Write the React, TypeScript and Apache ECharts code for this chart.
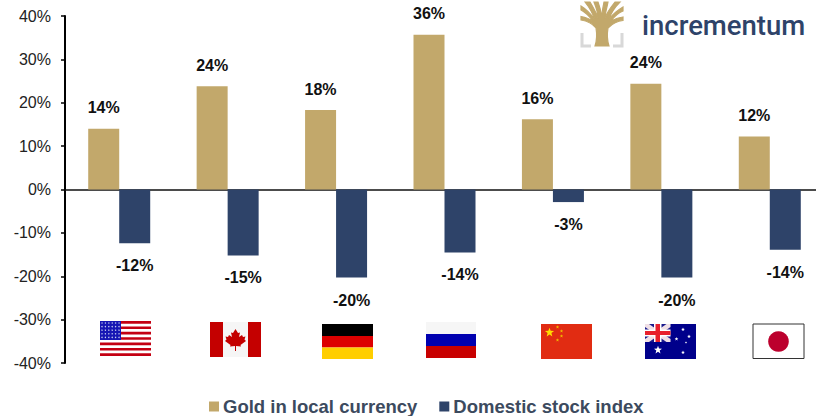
import React, { useEffect, useRef } from "react";
import * as echarts from "echarts";

const categories = ["United States", "Canada", "Germany", "Russia", "China", "Australia", "Japan"];
const goldValues = [14, 23.8, 18.3, 35.7, 16.2, 24.4, 12.2];
const stockValues = [-12.4, -15.2, -20.3, -14.5, -2.9, -20.3, -13.9];
const goldLabels = ["14%", "24%", "18%", "36%", "16%", "24%", "12%"];
const stockLabels = ["-12%", "-15%", "-20%", "-14%", "-3%", "-20%", "-14%"];

const TREE =
  "M15 46 C17 40 17 34 16 28 C12 23 7 21 1 20 L1 16.5 C6 17.5 10 19 13 21 C9 16 5 12 1 10 L1 6 C6 9 11 14 15 20 C13 14 9 7 5 2 L10 2 C13 7 16 12 18 18 C18 13 16 7 14 2 L18 2 C20 7 21 12 21.5 17 C22 12 23 7 24 2 L28 2 C27 8 25 13 25 18 C27 12 31 7 35 2 L40 2 C35 7 31 13 29 19 C33 14 38 10 43 7 L43 11 C38 13 34 17 31 21 C35 19 39 17.5 43 17 L43 20.5 C37 21 32 24 28 28 C27 34 27 40 29 46 Z";
echarts.graphic.registerShape("incTreeLogo", echarts.graphic.extendPath(TREE, {}));

const rect = (x: number, y: number, width: number, height: number, fill: string) => ({
  type: "rect",
  shape: { x, y, width, height },
  style: { fill },
  silent: true,
});
const poly = (points: number[][], fill: string) => ({
  type: "polygon",
  shape: { points },
  style: { fill },
  silent: true,
});
const dot = (cx: number, cy: number, r: number, fill: string) => ({
  type: "circle",
  shape: { cx, cy, r },
  style: { fill },
  silent: true,
});
const star = (cx: number, cy: number, r: number, fill: string) => {
  const pts: number[][] = [];
  for (let i = 0; i < 10; i++) {
    const a = -Math.PI / 2 + (i * Math.PI) / 5;
    const q = i % 2 ? r * 0.42 : r;
    pts.push([cx + q * Math.cos(a), cy + q * Math.sin(a)]);
  }
  return poly(pts, fill);
};

function usFlag() {
  const out: any[] = [rect(100, 321, 51, 35, "#ffffff")];
  const h = 35 / 13;
  for (let i = 0; i < 13; i += 2) out.push(rect(100, 321 + i * h, 51, h, "#c40012"));
  out.push(rect(100, 321, 21, 19, "#1616b4"));
  for (let r = 0; r < 5; r++) {
    for (let c = 0; c < 6; c++) out.push(dot(102 + c * 3.4, 323 + r * 3.6, 0.7, "#c8d0f0"));
  }
  return out;
}
function canadaFlag() {
  return [
    rect(210, 322, 51, 35, "#c40000"),
    rect(223, 322, 25, 35, "#f6f6f6"),
    poly(
      [
        [235.5, 329], [238, 333], [240, 332.5], [239, 337], [242, 335], [243, 337], [245.5, 336.5],
        [244.5, 339.5], [246, 341], [240.5, 345], [241, 346.5], [236, 346], [236, 351], [235, 351],
        [235, 346], [230, 346.5], [230.5, 345], [225, 341], [226.5, 339.5], [225.5, 336.5],
        [228, 337], [229, 335], [232, 337], [231, 332.5], [233, 333],
      ],
      "#c40000"
    ),
  ];
}
function germanyFlag() {
  return [
    rect(322, 324, 51, 12, "#000000"),
    rect(322, 336, 51, 11.5, "#dd0000"),
    rect(322, 347.5, 51, 11.5, "#ffce00"),
  ];
}
function russiaFlag() {
  return [
    rect(426, 322, 50, 12, "#f6f6f6"),
    rect(426, 334, 50, 12, "#0000b0"),
    rect(426, 346, 50, 12, "#c80000"),
  ];
}
function chinaFlag() {
  return [
    rect(541, 324, 51, 35, "#e12c12"),
    star(549.5, 332.5, 4.8, "#ffdd00"),
    star(557.5, 327, 1.8, "#f0c000"),
    star(561.5, 331, 1.8, "#f0c000"),
    star(561.5, 336, 1.8, "#f0c000"),
    star(557.5, 340, 1.8, "#f0c000"),
  ];
}
function australiaFlag() {
  return [
    rect(645, 324, 51, 35, "#00008b"),
    rect(645, 324, 25.5, 18, "#1a1a8c"),
    poly([[645, 324], [649, 324], [670.5, 339], [670.5, 342], [666.5, 342], [645, 327]], "#f0e0e6"),
    poly([[670.5, 324], [666.5, 324], [645, 339], [645, 342], [649, 342], [670.5, 327]], "#f0e0e6"),
    rect(654, 324, 7.5, 18, "#ffffff"),
    rect(645, 329.5, 25.5, 7, "#ffffff"),
    rect(655.5, 324, 4.5, 18, "#e8202c"),
    rect(645, 331, 25.5, 4, "#e8202c"),
    star(658, 350, 4.2, "#ffffff"),
    star(683, 329.5, 2, "#ffffff"),
    star(689, 336.5, 2, "#ffffff"),
    star(676.5, 339, 2, "#ffffff"),
    star(686, 342.5, 1.2, "#ffffff"),
    star(683, 352.5, 2, "#ffffff"),
  ];
}
function japanFlag() {
  return [
    {
      type: "rect",
      shape: { x: 753, y: 324, width: 51, height: 34.5 },
      style: { fill: "#ffffff", stroke: "#333333", lineWidth: 1 },
      silent: true,
    },
    dot(778.5, 341.5, 10.3, "#bc002d"),
  ];
}

export default function App() {
  const ref = useRef<HTMLDivElement>(null);
  useEffect(() => {
    const chart = echarts.init(ref.current!, undefined, { renderer: "svg" });
    chart.setOption({
      animation: false,
      backgroundColor: "#ffffff",
      textStyle: { fontFamily: "Liberation Sans" },
      grid: { left: 65, top: 16, width: 759, height: 347, containLabel: false, outerBoundsMode: "none" },
      legend: {
        left: 209,
        top: 397,
        itemWidth: 10,
        itemHeight: 10,
        itemGap: 22,
        padding: 0,
        icon: "rect",
        selectedMode: false,
        textStyle: {
          fontFamily: "Liberation Sans",
          fontSize: 18.5,
          fontWeight: "bold",
          color: "#3c4a5e",
          padding: [0, 0, 0, -1],
        },
      },
      xAxis: {
        type: "category",
        data: categories,
        axisLine: { onZero: true, lineStyle: { color: "#111111", width: 1.5 } },
        axisTick: { show: false },
        axisLabel: { show: false },
      },
      yAxis: {
        type: "value",
        min: -40,
        max: 40,
        interval: 10,
        splitLine: { show: false },
        axisLine: { show: true, lineStyle: { color: "#000000", width: 2 } },
        axisTick: { show: true, length: 4, lineStyle: { color: "#000000", width: 1.5 } },
        axisLabel: {
          formatter: "{value}%",
          fontFamily: "Liberation Sans",
          fontSize: 16,
          color: "#222222",
          margin: 14,
        },
      },
      series: [
        {
          name: "Gold in local currency",
          type: "bar",
          data: goldValues,
          barWidth: 31,
          barGap: 0,
          itemStyle: { color: "#c2a86b" },
          label: {
            show: true,
            position: "top",
            distance: 13,
            fontFamily: "Liberation Sans",
            fontSize: 16,
            fontWeight: "bold",
            color: "#111111",
            formatter: (p: any) => goldLabels[p.dataIndex],
          },
        },
        {
          name: "Domestic stock index",
          type: "bar",
          data: stockValues,
          barWidth: 31,
          barGap: 0,
          itemStyle: { color: "#2e4369" },
          label: {
            show: true,
            position: "bottom",
            distance: 14.5,
            fontFamily: "Liberation Sans",
            fontSize: 16,
            fontWeight: "bold",
            color: "#111111",
            formatter: (p: any) => stockLabels[p.dataIndex],
          },
        },
      ],
      graphic: {
        elements: [
          ...usFlag(),
          ...canadaFlag(),
          ...germanyFlag(),
          ...russiaFlag(),
          ...chinaFlag(),
          ...australiaFlag(),
          ...japanFlag(),
          {
            type: "polyline",
            shape: { points: [[582, 33], [582, 46], [591, 46]] },
            style: { stroke: "#d8d8d8", lineWidth: 3, fill: "none" },
            silent: true,
          },
          {
            type: "polyline",
            shape: { points: [[622, 33], [622, 46], [613, 46]] },
            style: { stroke: "#d8d8d8", lineWidth: 3, fill: "none" },
            silent: true,
          },
          {
            type: "incTreeLogo",
            x: 580,
            y: 0,
            style: { fill: "#c2a86b", stroke: "#c2a86b", lineWidth: 1.2 },
            silent: true,
          },
          {
            type: "text",
            x: 642,
            y: 25,
            style: {
              text: "incrementum",
              fontFamily: "Roboto",
              fontSize: 27.5,
              fontWeight: 500,
              fill: "#2e4369",
              verticalAlign: "middle",
              align: "left",
            },
            silent: true,
          },
        ],
      },
    });
    return () => chart.dispose();
  }, []);
  return <div ref={ref} style={{ width: 816, height: 416, position: "fixed", left: 0, top: 0 }} />;
}
